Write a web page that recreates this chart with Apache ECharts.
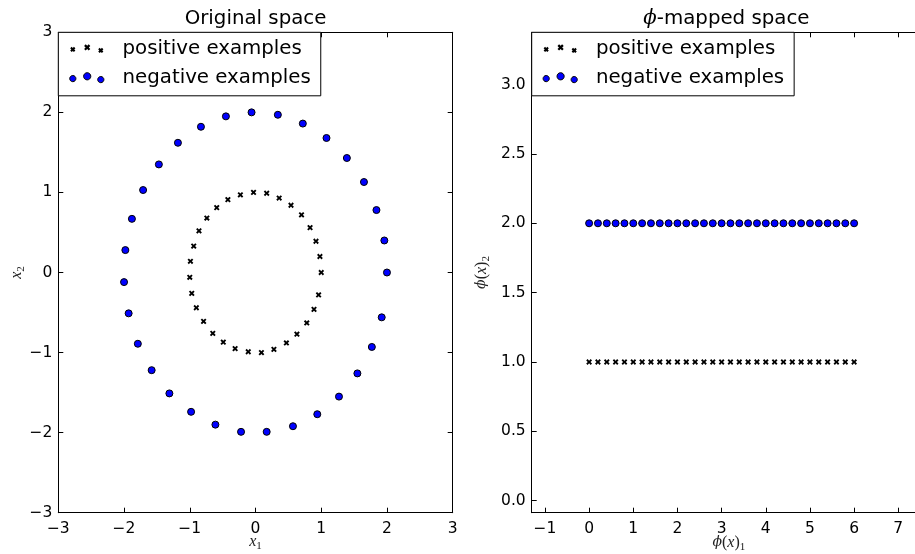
<!DOCTYPE html>
<html><head><meta charset="utf-8">
<script src="https://cdn.jsdelivr.net/npm/echarts@6/dist/echarts.min.js"></script>
<style>html,body{margin:0;padding:0;background:#fff}#c{width:915px;height:554px}</style>
</head><body><div id="c"></div>
<script>
// ---- data ----
const angles = [0.0,0.2,0.4,0.6,0.8,1.0,1.2,1.4,1.6,1.8,2.0,2.2,2.4,2.6,2.8,3.0,3.2,3.4,3.6,3.8,4.0,4.2,4.4,4.6,4.8,5.0,5.2,5.4,5.6,5.8,6.0];
const posX = [1.00,0.98,0.92,0.83,0.70,0.54,0.36,0.17,-0.03,-0.23,-0.42,-0.59,-0.74,-0.86,-0.94,-0.99,-1.00,-0.97,-0.90,-0.79,-0.65,-0.49,-0.31,-0.11,0.09,0.28,0.47,0.63,0.78,0.89,0.96];
const posY = [0.00,0.20,0.39,0.56,0.72,0.84,0.93,0.99,1.00,0.97,0.91,0.81,0.68,0.52,0.33,0.14,-0.06,-0.26,-0.44,-0.61,-0.76,-0.87,-0.95,-0.99,-1.00,-0.96,-0.88,-0.77,-0.63,-0.46,-0.28];
const negX = [2.00,1.96,1.84,1.65,1.39,1.08,0.72,0.34,-0.06,-0.45,-0.83,-1.18,-1.47,-1.71,-1.88,-1.98,-2.00,-1.93,-1.79,-1.58,-1.31,-0.98,-0.61,-0.22,0.17,0.57,0.94,1.27,1.55,1.77,1.92];
const negY = [0.00,0.40,0.78,1.13,1.43,1.68,1.86,1.97,2.00,1.95,1.82,1.62,1.35,1.03,0.67,0.28,-0.12,-0.51,-0.89,-1.22,-1.51,-1.74,-1.90,-1.99,-1.99,-1.92,-1.77,-1.55,-1.26,-0.93,-0.56];
const phiPos = [1,1,1,1,1,1,1,1,1,1,1,1,1,1,1,1,1,1,1,1,1,1,1,1,1,1,1,1,1,1,1];
const phiNeg = [2,2,2,2,2,2,2,2,2,2,2,2,2,2,2,2,2,2,2,2,2,2,2,2,2,2,2,2,2,2,2];
const rightXTicks = [-1,0,1,2,3,4,5,6,7];
const rightYTicks = [0,0.5,1,1.5,2,2.5,3];
const seriesNames = ['positive examples','negative examples'];
const titles = ['Original space','ϕ-mapped space'];

// ---- helpers ----
const zip = (a,b) => a.map((v,i) => [v,b[i]]);
const SANS = 'DejaVu Sans';
const TICK_FS = 15.5, BIG_FS = 19.8;
const minus = v => String(v).replace('-', '\u2212');

function xShape(cx,cy,h,d){
  return `M${cx-h},${cy-h+d}L${cx-h+d},${cy-h}L${cx},${cy-d}L${cx+h-d},${cy-h}L${cx+h},${cy-h+d}L${cx+d},${cy}L${cx+h},${cy+h-d}L${cx+h-d},${cy+h}L${cx},${cy+d}L${cx-h+d},${cy+h}L${cx-h},${cy+h-d}L${cx-d},${cy}Z`;
}
function circ(cx,cy,r){
  const k = 0.5523*r;
  return `M${cx+r},${cy}C${cx+r},${cy+k} ${cx+k},${cy+r} ${cx},${cy+r}C${cx-k},${cy+r} ${cx-r},${cy+k} ${cx-r},${cy}C${cx-r},${cy-k} ${cx-k},${cy-r} ${cx},${cy-r}C${cx+k},${cy-r} ${cx+r},${cy-k} ${cx+r},${cy}Z`;
}
const IW = 40, IH = 12;
const anchors = `M0,0Z M${IW},${IH}Z`;
const posIcon = 'path://' + anchors + xShape(6.3,6.6,2.6,1.5) + xShape(20.7,4.6,3.1,1.6) + xShape(34.3,7.6,2.6,1.5);
const negIcon = 'path://' + anchors + circ(6.3,6.8,3.1) + circ(20.7,4.5,3.6) + circ(34.3,7.8,3.1);
const X_SYMBOL = 'path://M0,2.3L2.3,0L5,2.7L7.7,0L10,2.3L7.3,5L10,7.7L7.7,10L5,7.3L2.3,10L0,7.7L2.7,5Z';

// layout
const G = [{left:58.3, top:32.3, width:394.4, height:480.4},{left:531.7, top:32.3, width:394.4, height:480.4}];

const mctx = document.createElement('canvas').getContext('2d');
function tw(font, s){ mctx.font = font; return mctx.measureText(s).width; }
const t1w = tw(`${BIG_FS}px "${SANS}"`, titles[0]);
const t2w = tw(`italic ${BIG_FS}px "DejaVu Serif"`, 'ϕ') + tw(`${BIG_FS}px "${SANS}"`, titles[1].slice(1));

const nameRich = {
  i: {fontFamily:'Liberation Serif', fontStyle:'italic', fontSize:16, lineHeight:20, color:'#222'},
  p: {fontFamily:'DejaVu Serif', fontStyle:'italic', fontSize:14, lineHeight:20, color:'#222'},
  n: {fontFamily:'Liberation Serif', fontSize:16, lineHeight:20, color:'#222'},
  s: {fontFamily:'Liberation Serif', fontSize:11, lineHeight:11, verticalAlign:'bottom', color:'#222'}
};

const lineStyle = {color:'#000', width:1};
function axis(o){
  const base = {
    type:'value', gridIndex:o.grid, position:o.pos, min:o.min, max:o.max,
    splitLine:{show:false},
    axisLine:{show:true, onZero:false, lineStyle},
    axisTick:{show:true, inside:true, length:5, lineStyle},
    axisLabel:{show:!!o.labels, fontFamily:SANS, fontSize:TICK_FS, color:'#000', margin:o.margin||6, formatter:o.fmt}
  };
  if (o.interval) base.interval = o.interval;
  if (o.custom){ base.axisTick.customValues = o.custom; base.axisLabel.customValues = o.custom; }
  if (o.name){
    Object.assign(base, {name:o.name, nameLocation:'middle', nameGap:o.gap, nameRotate:o.rot||0,
      nameMoveOverlap:false, nameTextStyle:{rich:nameRich}});
  }
  return base;
}

const xAxes = [
  axis({grid:0,pos:'bottom',min:-3,max:3,interval:1,labels:true,fmt:minus,margin:8,name:'{i|x}{s|1}',gap:19}),
  axis({grid:0,pos:'top',min:-3,max:3,interval:1}),
  axis({grid:1,pos:'bottom',min:-1.3,max:7.63,custom:rightXTicks,labels:true,fmt:minus,margin:8,name:'{p|ϕ}{n|(}{i|x}{n|)}{s|1}',gap:20}),
  axis({grid:1,pos:'top',min:-1.3,max:7.63,custom:rightXTicks})
];
const yAxes = [
  axis({grid:0,pos:'left',min:-3,max:3,interval:1,labels:true,fmt:minus,margin:6,name:'{i|x}{s|2}',gap:32,rot:90}),
  axis({grid:0,pos:'right',min:-3,max:3,interval:1}),
  axis({grid:1,pos:'left',min:-0.0865,max:3.377,custom:rightYTicks,labels:true,fmt:v=>Number(v).toFixed(1),margin:6,name:'{p|ϕ}{n|(}{i|x}{n|)}{s|2}',gap:40,rot:90}),
  axis({grid:1,pos:'right',min:-0.0865,max:3.377,custom:rightYTicks})
];

function legend(left){
  return {
    left, top:32.3, orient:'vertical', selectedMode:false,
    backgroundColor:'#fff', borderColor:'#000', borderWidth:1, borderRadius:0,
    padding:[5,10,6.5,7.7], itemGap:6, itemWidth:IW, itemHeight:IH,
    textStyle:{fontFamily:SANS, fontSize:BIG_FS, color:'#000', lineHeight:23, padding:[0,0,0,11]},
    data:[
      {name:seriesNames[0], icon:posIcon, itemStyle:{color:'#000', borderWidth:0, opacity:1}},
      {name:seriesNames[1], icon:negIcon, itemStyle:{color:'#0000ff', borderColor:'#000', borderWidth:1, opacity:1}}
    ]
  };
}

function posSeries(xi, data){
  return {type:'scatter', name:seriesNames[0], xAxisIndex:xi, yAxisIndex:xi, data, symbol:X_SYMBOL, symbolSize:5.8,
    itemStyle:{color:'#000', opacity:1}, emphasis:{disabled:true}, z:3};
}
function negSeries(xi, data){
  return {type:'scatter', name:seriesNames[1], xAxisIndex:xi, yAxisIndex:xi, data, symbol:'circle', symbolSize:7,
    itemStyle:{color:'#0000ff', borderColor:'#000', borderWidth:1, opacity:1}, emphasis:{disabled:true}, z:3};
}

const chart = echarts.init(document.getElementById('c'), null, {renderer:'canvas'});
chart.setOption({
  animation:false,
  backgroundColor:'#fff',
  title:[
    {text:titles[0], left:G[0].left + G[0].width/2 - t1w/2, top:6.5, padding:0,
      textStyle:{fontFamily:SANS, fontSize:BIG_FS, fontWeight:'normal', color:'#000', lineHeight:24}},
    {text:'{p|ϕ}' + titles[1].slice(1), left:G[1].left + 197.2 - 2.5 - t2w/2, top:6.5, padding:0,
      textStyle:{fontFamily:SANS, fontSize:BIG_FS, fontWeight:'normal', color:'#000', lineHeight:24,
        rich:{p:{fontFamily:'DejaVu Serif', fontStyle:'italic', fontSize:BIG_FS, lineHeight:24, color:'#000'}}}}
  ],
  grid:G.map(g => Object.assign({containLabel:false, outerBoundsMode:'none'}, g)),
  xAxis:xAxes, yAxis:yAxes,
  legend:[legend(58.3), legend(531.7)],
  series:[
    posSeries(0, zip(posX,posY)),
    negSeries(0, zip(negX,negY)),
    posSeries(2, zip(angles,phiPos)),
    negSeries(2, zip(angles,phiNeg))
  ]
});
</script></body></html>
